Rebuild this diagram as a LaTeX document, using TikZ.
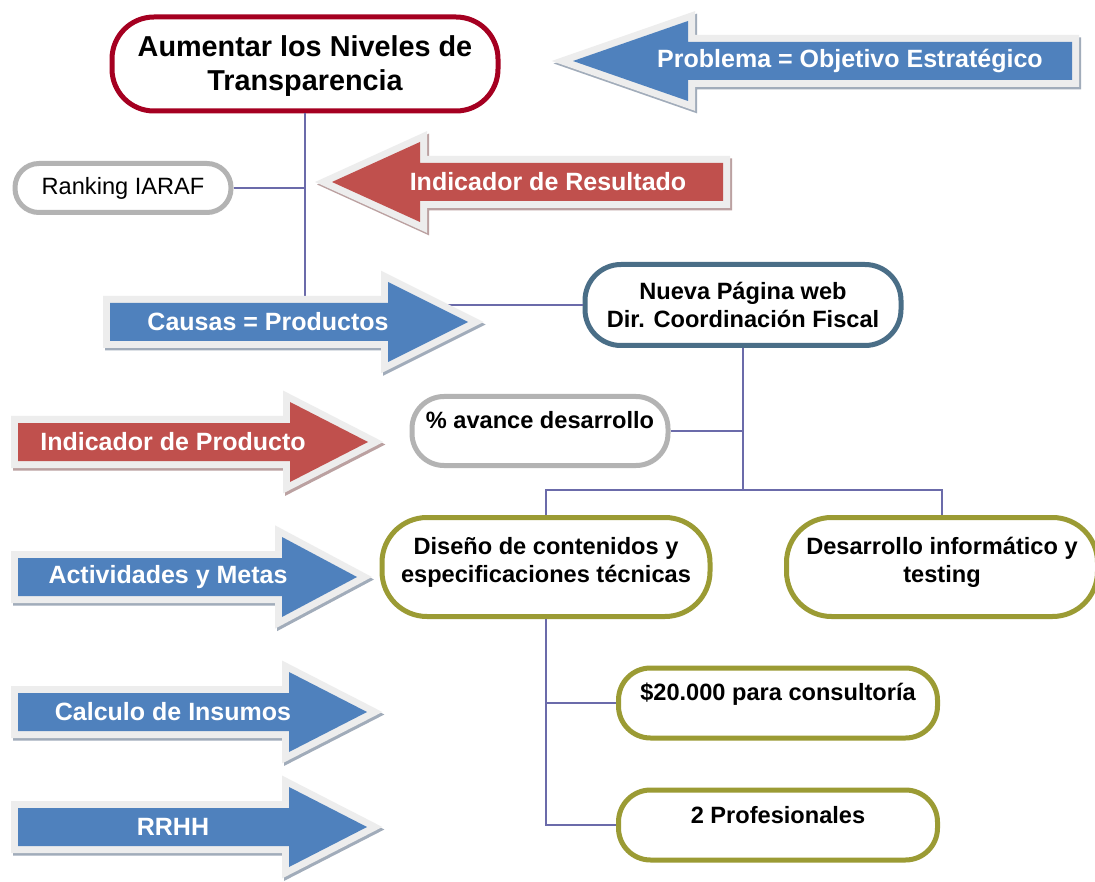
\documentclass[tikz,border=0pt]{standalone}
\usepackage{fontspec}
\setmainfont{Liberation Sans}
\definecolor{arrowblue}{HTML}{4F81BD}
\definecolor{arrowred}{HTML}{C0504D}
\definecolor{goalred}{HTML}{A50021}
\definecolor{webslate}{HTML}{4A6E87}
\definecolor{taskolive}{HTML}{9B9B34}
\definecolor{indgray}{HTML}{B3B3B3}
\definecolor{linkviolet}{HTML}{6B6BAA}
\newcommand{\liftby}[2]{\raisebox{#1}[\height][\depth]{\begin{tabular}{@{}c@{}}#2\end{tabular}}}
\begin{document}
\begin{tikzpicture}[x=1pt,y=-1pt,every node/.style={font=\bfseries\fontsize{23.6}{28}\selectfont}]
    \tikzset{
      pill/.style={draw=#1,line width=5pt,fill=white,align=center,inner sep=0pt},
      link/.style={linkviolet,line width=1.6pt},
      blockarrow/.style={fill=#1,
        preaction={draw=#1!35!gray!65,line width=14pt,line join=miter,transform canvas={shift={(2pt,-2.5pt)}}},
        preaction={draw=black!7,line width=14pt,line join=miter}},
      arrowtext/.style={white,font=\bfseries\fontsize{25}{30}\selectfont}
    }
    \path[use as bounding box,fill=white] (0,0) rectangle (1095,882);
    % objective and its indicator
    \node[pill=goalred,minimum width=386pt,minimum height=94pt,rounded corners=42pt,
      font=\bfseries\fontsize{28.8}{34}\selectfont] (goal) at (305,64)
      {\liftby{-3pt}{Aumentar los Niveles de\\Transparencia}};
    \node[pill=indgray,minimum width=216pt,minimum height=49pt,rounded corners=24pt,
      font=\fontsize{23.6}{28}\selectfont] (rank) at (123,188) {Ranking IARAF};
    % product
    \node[pill=webslate,minimum width=316pt,minimum height=81pt,rounded corners=36pt] (web) at (743,305)
      {Nueva Página web\\Dir. Coordinación Fiscal};
    \node[pill=indgray,minimum width=256pt,minimum height=69pt,rounded corners=32pt] (avance) at (540,431)
      {\liftby{8pt}{\% avance desarrollo}};
    % activities and inputs
    \node[pill=taskolive,minimum width=328pt,minimum height=99pt,rounded corners=45pt] (diseno) at (546,567)
      {\liftby{4pt}{Diseño de contenidos y\\especificaciones técnicas}};
    \node[pill=taskolive,minimum width=311pt,minimum height=99pt,rounded corners=45pt] (desarrollo) at (942,567)
      {\liftby{4pt}{Desarrollo informático y\\testing}};
    \node[pill=taskolive,minimum width=319pt,minimum height=70pt,rounded corners=32pt] (consul) at (778,703)
      {\liftby{8pt}{\$20.000 para consultoría}};
    \node[pill=taskolive,minimum width=319pt,minimum height=70pt,rounded corners=32pt] (profes) at (778,825)
      {\liftby{7pt}{2 Profesionales}};
    % tree
    \coordinate (split) at (743,490);
    \draw[link] (goal.south) |- (web.west);
    \draw[link] (rank.east) -- (rank.east -| goal.south);
    \draw[link] (web.south) -- (split);
    \draw[link] (avance.east) -- (avance.east -| split);
    \draw[link] (diseno.north) |- (split) -| (desarrollo.north);
    \draw[link] (diseno.south) |- (profes.west);
    \draw[link] (consul.west) -| (diseno.south);
    % block arrows: shaft end / head base / tip / centre / colour / text x / text
    \foreach \xs/\xh/\xt/\yc/\col/\tx/\txt [count=\i] in {
      1072/688/573/61/arrowblue/850/{Problema = Objetivo Estratégico},
      723/420/332/182/arrowred/548/{Indicador de Resultado},
      110/388/468/322/arrowblue/268/{Causas = Productos},
      18/290/368/442/arrowred/173/{Indicador de Producto},
      18/282/357/577/arrowblue/168/{Actividades y Metas},
      18/289/367/712/arrowblue/173/{Calculo de Insumos},
      18/289/367/827/arrowblue/173/{RRHH}} {
      \fill[blockarrow=\col] (\xs,\yc-19) -- (\xh,\yc-19) -- (\xh,\yc-40) -- (\xt,\yc)
        -- (\xh,\yc+40) -- (\xh,\yc+19) -- (\xs,\yc+19) -- cycle;
      \node[arrowtext] (arrlab\i) at (\tx,\yc) {\txt};
    }
  \end{tikzpicture}
\end{document}
